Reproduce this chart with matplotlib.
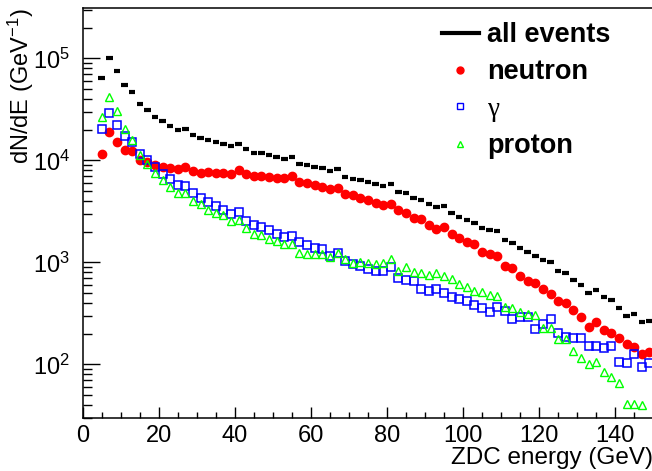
import numpy as np
import matplotlib
matplotlib.use('Agg')
import matplotlib.pyplot as plt
from matplotlib.lines import Line2D
from matplotlib.ticker import LogLocator, NullFormatter, MultipleLocator

plt.rcParams['font.family'] = ['Liberation Sans', 'DejaVu Sans']
plt.rcParams['mathtext.fontset'] = 'custom'
plt.rcParams['mathtext.rm'] = 'Liberation Sans'
plt.rcParams['mathtext.it'] = 'Liberation Sans:italic'
plt.rcParams['mathtext.bf'] = 'Liberation Sans:bold'

# bin centres (GeV)
energy = np.arange(5, 150, 2)

all_events = [64000, 100000, 74600, 54400, 46400, 35700, 30900, 26700, 24100, 21500,
              19950, 20400, 17700, 16600, 15800, 15000, 14500, 13700, 14500, 12800,
              11900, 11800, 11200, 10800, 10300, 10800, 9270, 8930, 8550, 8350,
              7850, 8160, 6850, 6600, 6360, 6130, 5860, 5560, 5860, 4890,
              4750, 4250, 4060, 3710, 3460, 3550, 3080, 2800, 2590, 2430,
              2170, 2060, 2010, 1640, 1540, 1380, 1260, 1160, 1050, 1000,
              828, 791, 670, 598, 497, 535, 454, 430, 356, 300, 314, 260, 267]

neutron = [11500, 18800, 15000, 12600, 12300, 10070, 9620, 9000, 8600, 8350,
           8280, 8600, 7850, 7600, 7670, 7500, 7500, 7390, 8090, 7390,
           7060, 7060, 6800, 6760, 6670, 7060, 6130, 5940, 5730, 5470,
           5230, 5390, 4640, 4570, 4300, 4080, 3810, 3620, 3760, 3240,
           3040, 2740, 2660, 2330, 2120, 2240, 1900, 1720, 1580, 1500,
           1270, 1210, 1160, 917, 880, 731, 661, 625, 553, 489,
           421, 396, 341, 293, 233, 261, 217, 201, 180, 157, 148, 126, 133]

gamma = [20100, 28900, 22300, 17200, 15000, 11600, 10070, 8540, 7340, 6510,
         5730, 5600, 4750, 4300, 3870, 3560, 3280, 3000, 3090, 2540,
         2320, 2240, 2070, 1900, 1780, 1810, 1570, 1470, 1370, 1340,
         1150, 1230, 1040, 962, 927, 854, 828, 822, 906, 706,
         675, 651, 544, 527, 543, 497, 457, 434, 418, 381,
         359, 328, 362, 330, 276, 293, 293, 222, 247, 278,
         201, 187, 180, 181, 153, 153, 146, 151, 106, 102, 126, 95, 102]

proton = [26400, 41500, 30400, 20300, 15800, 11300, 9140, 7560, 6410, 5510,
          4750, 4810, 4020, 3760, 3260, 3020, 2890, 2540, 2580, 2180,
          1900, 1850, 1690, 1630, 1510, 1510, 1250, 1220, 1200, 1220,
          1120, 1250, 1080, 991, 1020, 991, 962, 977, 1080, 828,
          906, 804, 791, 751, 780, 734, 686, 612, 576, 523,
          515, 478, 467, 367, 359, 328, 311, 304, 225, 225,
          179, 177, 136, 116, 100, 105, 84, 75, 65, 41, 41, 40, np.nan]

labels = ['all events', 'neutron', 'γ', 'proton']

W, H = 652, 471
fig = plt.figure(figsize=(W / 100, H / 100), dpi=100)
ax = fig.add_axes([82.7 / W, (H - 417.7) / H, 570.5 / W, (417.7 - 8.3) / H])

half = 0.85
ax.hlines(all_events, energy - half, energy + half, color='black', lw=3.0)
ax.plot(energy, neutron, 'o', ms=6.0, color='#ff0000', mec='#ff0000', ls='none')
ax.plot(energy, gamma, 's', ms=5.4, mfc='none', mec='#0000ff', mew=1.1, ls='none')
ax.plot(energy, proton, '^', ms=6.4, mfc='none', mec='#00ff00', mew=1.0, ls='none')

ax.set_xlim(0, 150)
ax.set_yscale('log')
ax.set_ylim(30, 3.1e5)

ax.xaxis.set_major_locator(MultipleLocator(20))
ax.xaxis.set_minor_locator(MultipleLocator(5))
ax.yaxis.set_major_locator(LogLocator(base=10))
ax.yaxis.set_minor_locator(LogLocator(base=10, subs=np.arange(2, 10)))
ax.yaxis.set_minor_formatter(NullFormatter())

ax.tick_params(axis='x', which='major', direction='in', length=8, width=1.0, labelsize=17, pad=5)
ax.tick_params(axis='x', which='minor', direction='in', length=4, width=1.0)
ax.tick_params(axis='y', which='major', direction='in', length=12, width=1.0, labelsize=17, pad=9)
ax.tick_params(axis='y', which='minor', direction='in', length=6.5, width=1.0)
for s in ax.spines.values():
    s.set_linewidth(1.1)

ax.set_xlabel('ZDC energy (GeV)', fontsize=17.5, loc='right')
ax.xaxis.set_label_coords(0.9988, -0.072)
ax.set_ylabel(r'dN/dE (GeV$^{-1}$)', fontsize=17, loc='top')
ax.yaxis.set_label_coords(-0.082, 1.0)

handles = [
    Line2D([], [], color='black', lw=3),
    Line2D([], [], marker='o', ms=5, color='#ff0000', ls='none'),
    Line2D([], [], marker='s', ms=5, mfc='none', mec='#0000ff', mew=1.0, ls='none'),
    Line2D([], [], marker='^', ms=5, mfc='none', mec='#00ff00', mew=1.0, ls='none'),
]
leg = ax.legend(handles, labels, loc='upper left', bbox_to_anchor=(441.7 / W, 1 - 22 / H),
                bbox_transform=fig.transFigure, frameon=False,
                prop={'size': 19.5, 'weight': 'bold'},
                handlelength=1.36, handletextpad=0.31, labelspacing=0.42,
                borderpad=0, borderaxespad=0)
gtxt = leg.get_texts()[2]
gtxt.set_fontweight('normal')
gtxt.set_family(['Liberation Serif', 'DejaVu Serif'])

fig.savefig('out.png', dpi=100)
